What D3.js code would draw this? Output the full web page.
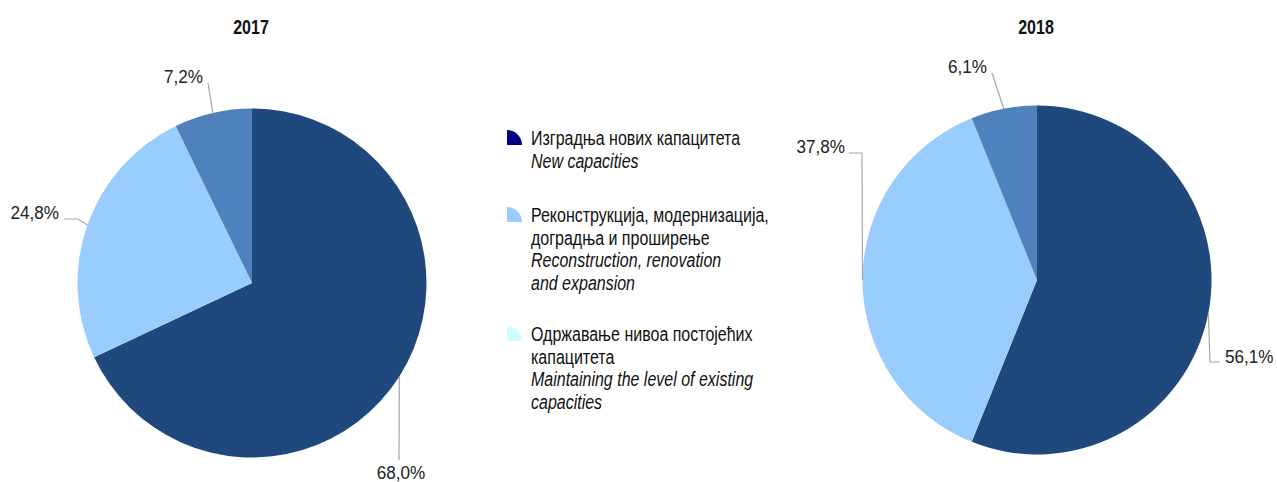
<!DOCTYPE html>
<html>
<head>
<meta charset="utf-8">
<script src="https://cdn.jsdelivr.net/npm/d3@7"></script>
<style>
  body { margin: 0; background: #fff; }
  svg { display: block; }
  .title { font-family: "Liberation Sans", Arial, sans-serif; font-weight: bold; font-size: 20px; fill: #111; }
  .lbl { font-family: "Liberation Sans", Arial, sans-serif; font-size: 19px; fill: #222; }
  .leg { font-family: "Liberation Sans", Arial, sans-serif; font-size: 19.5px; fill: #111; }
</style>
</head>
<body>
<svg id="chart" width="1277" height="482"></svg>
<script>
// data
var years = ["2017", "2018"];
var categories = ["new", "recon", "maint"];
var values2017 = [68.0, 24.8, 7.2];
var values2018 = [56.1, 37.8, 6.1];
var legendSr = ["Изградња нових капацитета", "Реконструкција, модернизација,|доградња и проширење", "Одржавање нивоа постојећих|капацитета"];
var legendEn = ["New capacities", "Reconstruction, renovation|and expansion", "Maintaining the level of existing|capacities"];

var sliceColors = ["#1f497d", "#99ccff", "#4f81bd"];
var legendColors = ["#000080", "#99ccff", "#ccffff"];

var svg = d3.select("#chart");
var radius = 174.5;

// narrow-looking text: squeeze horizontally
function narrowText(sel, x, y, s) {
  return sel.attr("x", 0).attr("y", 0)
    .attr("transform", "translate(" + x + "," + y + ") scale(" + s + ",1)");
}

// label layout, relative to pie centre
var pies = [
  { cx: 252, cy: 283, values: values2017,
    labels: [
      { elbow: null, end: [147, 177], text: [149, 196], anchor: "middle" },
      { elbow: [-174, -64], end: [-188, -64], text: [-193, -64], anchor: "end" },
      { elbow: null, end: [-44, -200], text: [-49, -200], anchor: "end" }
    ] },
  { cx: 1037, cy: 280, values: values2018,
    labels: [
      { elbow: [173, 82], end: [183, 82], text: [188, 83], anchor: "start" },
      { elbow: [-175, -127], end: [-188, -127], text: [-192, -127], anchor: "end" },
      { elbow: null, end: [-45, -207], text: [-50, -207], anchor: "end" }
    ] }
];

var pie = d3.pie().sort(null).value(function(d) { return d; });
var arc = d3.arc().innerRadius(0).outerRadius(radius);
var fmt = function(v) { return v.toFixed(1).replace(".", ",") + "%"; };

pies.forEach(function(p, pi) {
  var g = svg.append("g").attr("transform", "translate(" + p.cx + "," + p.cy + ")");

  narrowText(svg.append("text")
    .attr("class", "title")
    .attr("text-anchor", "middle")
    .text(years[pi]), p.cx - 1, 34, 0.8);

  var arcs = pie(p.values);

  g.selectAll("path.slice")
    .data(arcs)
    .enter().append("path")
    .attr("class", "slice")
    .attr("d", arc)
    .attr("fill", function(d, i) { return sliceColors[i]; });

  arcs.forEach(function(a, i) {
    var L = p.labels[i];
    var mid = (a.startAngle + a.endAngle) / 2;
    var pt = [radius * Math.sin(mid), -radius * Math.cos(mid)];
    var pts = [pt];
    if (L.elbow) pts.push(L.elbow);
    pts.push(L.end);
    g.append("polyline")
      .attr("points", pts.map(function(q) { return q.join(","); }).join(" "))
      .attr("fill", "none")
      .attr("stroke", "#a6a6a6")
      .attr("stroke-width", 1.2);
    narrowText(g.append("text")
      .attr("class", "lbl")
      .attr("text-anchor", L.anchor)
      .text(fmt(a.data)), L.text[0], L.text[1], 0.9);
  });
});

// legend
var legTops = [130, 207, 326];
var lineH = 22.6;
categories.forEach(function(c, i) {
  var x0 = 507, y0 = legTops[i];
  var r = 15;
  svg.append("path")
    .attr("d", "M" + x0 + "," + (y0 + r) + " L" + x0 + "," + y0 +
      " A" + r + "," + r + " 0 0 1 " + (x0 + r) + "," + (y0 + r) + " Z")
    .attr("fill", legendColors[i]);

  var lines = legendSr[i].split("|").map(function(t) { return { t: t, it: false }; })
    .concat(legendEn[i].split("|").map(function(t) { return { t: t, it: true }; }));
  lines.forEach(function(ln, k) {
    narrowText(svg.append("text")
      .attr("class", "leg")
      .attr("font-style", ln.it ? "italic" : "normal")
      .text(ln.t), 531, y0 + 15 + k * lineH, 0.82);
  });
});
</script>
</body>
</html>
